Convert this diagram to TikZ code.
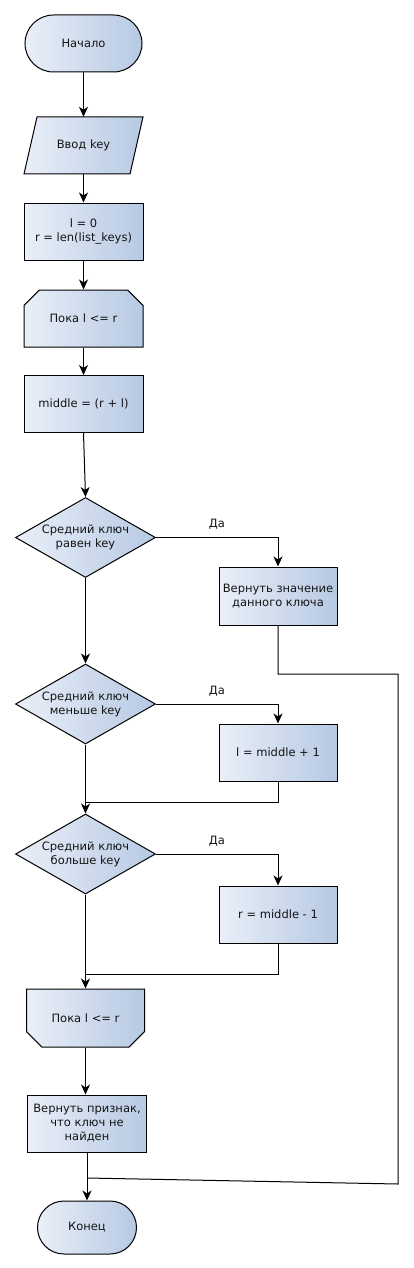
\documentclass[tikz,border=0pt]{standalone}
\usepackage{fontspec}
\setmainfont{DejaVu Sans}
\usetikzlibrary{shapes.geometric,shapes.misc,arrows.meta}
\definecolor{gl}{RGB}{234,239,248}
\definecolor{gr}{RGB}{182,201,227}
\definecolor{ink}{RGB}{20,20,20}
\begin{document}
\begin{tikzpicture}[x=1pt,y=-1pt,
  every node/.style={font=\fontsize{11.5}{14}\selectfont, text=ink},
  fillg/.style={draw=black, line width=1pt, left color=gl, right color=gr},
  procbox/.style={fillg, rectangle, minimum width=119pt, minimum height=57pt, inner sep=1pt, align=center},
  termbox/.style={fillg, rounded rectangle, minimum height=57pt, inner sep=1pt},
  loopbox/.style={fillg, chamfered rectangle, chamfered rectangle xsep=10pt, chamfered rectangle ysep=10pt, minimum width=119pt, minimum height=57pt, inner sep=1pt},
  decbox/.style={fillg, diamond, aspect=1.75, minimum width=140pt, minimum height=80pt, inner sep=0pt, align=center},
  arr/.style={line width=1pt, -{Stealth[length=10pt,width=9pt,inset=3pt]}},
  ln/.style={line width=1pt},
  yes/.style={above=4pt, pos=0.25}]
\useasboundingbox (0,0) rectangle (413,1268);
% top column
\node[termbox, minimum width=119pt] (start) at (83.5,43.5) {Начало};
\shade[fillg] (24,174) -- (37,117) -- (143,117) -- (130,174) -- cycle;
\node[minimum width=106pt, minimum height=57pt, inner sep=0pt] (input) at (83.5,145.5) {Ввод key};
\node[procbox] (init) at (83.5,231.5) {l = 0\\r = len(list\_keys)};
\node[loopbox, chamfered rectangle corners={north west,north east}] (loop1) at (83.5,318.5) {Пока l <= r};
\node[procbox] (mid) at (83.5,404) {middle = (r + l)};
% decisions
\node[decbox] (d1) at (85.5,537.5) {Средний ключ\\равен key};
\node[procbox, minimum width=118pt, minimum height=58pt] (r1) at (278,596) {Вернуть значение\\данного ключа};
\node[decbox] (d2) at (85.5,704) {Средний ключ\\меньше key};
\node[procbox, minimum width=118pt] (r2) at (278,752.5) {l = middle + 1};
\node[decbox] (d3) at (85.5,854) {Средний ключ\\больше key};
\node[procbox, minimum width=118pt] (r3) at (278,914.5) {r = middle - 1};
% bottom column
\node[loopbox, chamfered rectangle corners={south west,south east}, minimum width=118pt, minimum height=58pt] (loop2) at (85.5,1018) {Пока l <= r};
\node[procbox, minimum height=57pt] (nf) at (87,1123.5) {Вернуть признак,\\что ключ не\\найден};
\node[termbox, minimum width=101pt, minimum height=53pt] (end) at (87,1227.5) {Конец};
% coordinates
\coordinate (m1) at (85.5,802);
\coordinate (m2) at (85.5,974);
\coordinate (c1) at (398,674);
\coordinate (c2) at (398,1184);
\coordinate (m3) at (87,1178);
% connectors
\draw[arr] (start.south) -- (input.north);
\draw[arr] (input.south) -- (init.north);
\draw[arr] (init.south) -- (loop1.north);
\draw[arr] (loop1.south) -- (mid.north);
\draw[arr] (mid.south) -- (d1.north);
\draw[arr] (d1.east) -| (r1.north) node[yes] {Да};
\draw[ln] (r1.south) |- (c1) -- (c2) -- (m3);
\draw[arr] (d1.south) -- (d2.north);
\draw[arr] (d2.east) -| (r2.north) node[yes] {Да};
\draw[ln] (r2.south) |- (m1);
\draw[arr] (d2.south) -- (d3.north);
\draw[arr] (d3.east) -| (r3.north) node[yes] {Да};
\draw[ln] (r3.south) |- (m2);
\draw[arr] (d3.south) -- (loop2.north);
\draw[arr] (loop2.south) -- (loop2.south |- nf.north);
\draw[arr] (nf.south) -- (end.north);
\end{tikzpicture}
\end{document}
